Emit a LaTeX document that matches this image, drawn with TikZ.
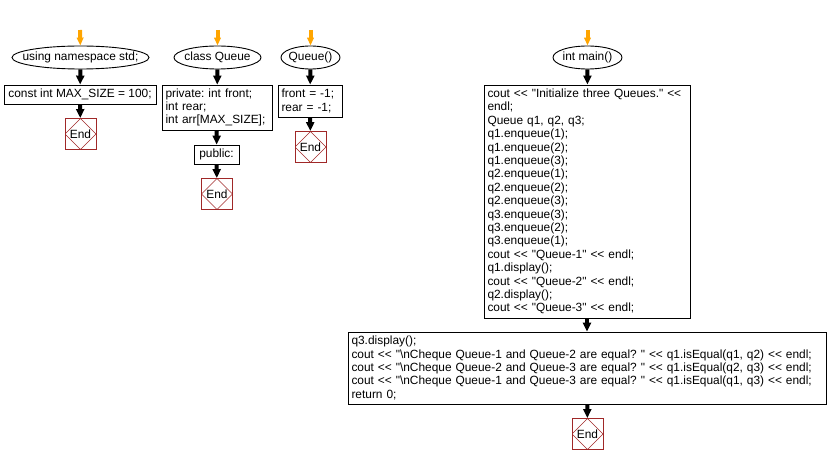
\documentclass[tikz,border=0pt]{standalone}
\usepackage{fontspec}
\setmainfont{Liberation Sans}[Ligatures=TeXOff]
\usepackage{tikz}
\usetikzlibrary{arrows.meta,shapes.geometric}
\definecolor{endred}{RGB}{160,40,40}
\definecolor{startor}{RGB}{255,165,0}
\newcommand{\nowidth}[1]{\makebox[0pt]{#1}}
\tikzset{
  flow/.style={-{Triangle[width=8pt,length=9pt]}, line width=4pt, black},
  start/.style={-{Triangle[width=6.5pt,length=8pt]}, line width=4pt, startor},
  term/.style={draw, ellipse, line width=0.9pt, inner sep=0pt, minimum height=23},
  proc/.style={draw, rectangle, line width=0.9pt, inner xsep=3.5pt, inner ysep=2pt, align=left},
  endbox/.style={draw=endred, line width=0.9pt, minimum size=31, inner sep=0pt,
    path picture={\draw[endred, line width=0.6pt] (path picture bounding box.north) -- (path picture bounding box.east)
      -- (path picture bounding box.south) -- (path picture bounding box.west) -- cycle;}},
}
\frenchspacing

\begin{document}
\begin{tikzpicture}[x=1pt,y=-1pt,font=\fontsize{11.9}{13.4}\selectfont]
  \useasboundingbox (0,0) rectangle (828,465);
  % using namespace
  \coordinate (s1) at (80,30);
  \node[term, minimum width=137] (u1) at (80.5,57.5) {\nowidth{using namespace std;}};
  \node[proc, minimum width=152, minimum height=19, align=center] (c1) at (80,94.5) {const int MAX\_SIZE = 100;};
  \node[endbox] (e1) at (80.5,134) {End};
  \draw[start] (s1) -- (u1);
  \draw[flow] (u1) -- (c1);
  \draw[flow] (c1) -- (e1);
  % class Queue
  \coordinate (s2) at (217.5,30);
  \node[term, minimum width=87] (q1) at (217.5,57.5) {\nowidth{class Queue}};
  \node[proc, text width=103, minimum height=45] (q2) at (217,107.5) {private: int front;\\int rear;\\int arr[MAX\_SIZE];};
  \node[proc, minimum width=45, minimum height=19, align=center] (q3) at (216.5,154.5) {public:};
  \node[endbox] (e2) at (217,194) {End};
  \draw[start] (s2) -- (q1);
  \draw[flow] (q1) -- (q2);
  \draw[flow] (q2) -- (q3);
  \draw[flow] (q3) -- (e2);
  % Queue()
  \coordinate (s3) at (310.5,30);
  \node[term, minimum width=59] (k1) at (310.5,57.5) {\nowidth{Queue()}};
  \node[proc, text width=57, minimum height=32] (k2) at (310,101) {front = -1;\\rear = -1;};
  \node[endbox] (e3) at (310.5,147) {End};
  \draw[start] (s3) -- (k1);
  \draw[flow] (k1) -- (k2);
  \draw[flow] (k2) -- (e3);
  % int main()
  \coordinate (s4) at (587.5,30);
  \node[term, minimum width=69] (m1) at (587.5,57.5) {\nowidth{int main()}};
  \node[proc, text width=199, minimum height=233] (m2) at (587,201.5) {cout << "Initialize three Queues." <<\\endl;\\Queue q1, q2, q3;\\q1.enqueue(1);\\q1.enqueue(2);\\q1.enqueue(3);\\q2.enqueue(1);\\q2.enqueue(2);\\q2.enqueue(3);\\q3.enqueue(3);\\q3.enqueue(2);\\q3.enqueue(1);\\cout << "Queue-1" << endl;\\q1.display();\\cout << "Queue-2" << endl;\\q2.display();\\cout << "Queue-3" << endl;};
  \node[proc, text width=471, minimum height=72] (m3) at (587,368) {q3.display();\\cout << "\textbackslash nCheque Queue-1 and Queue-2 are equal? " << q1.isEqual(q1, q2) << endl;\\cout << "\textbackslash nCheque Queue-2 and Queue-3 are equal? " << q1.isEqual(q2, q3) << endl;\\cout << "\textbackslash nCheque Queue-1 and Queue-3 are equal? " << q1.isEqual(q1, q3) << endl;\\return 0;};
  \node[endbox] (e4) at (587.5,434) {End};
  \draw[start] (s4) -- (m1);
  \draw[flow] (m1) -- (m2);
  \draw[flow] (m2) -- (m3);
  \draw[flow] (m3) -- (e4);
\end{tikzpicture}
\end{document}
